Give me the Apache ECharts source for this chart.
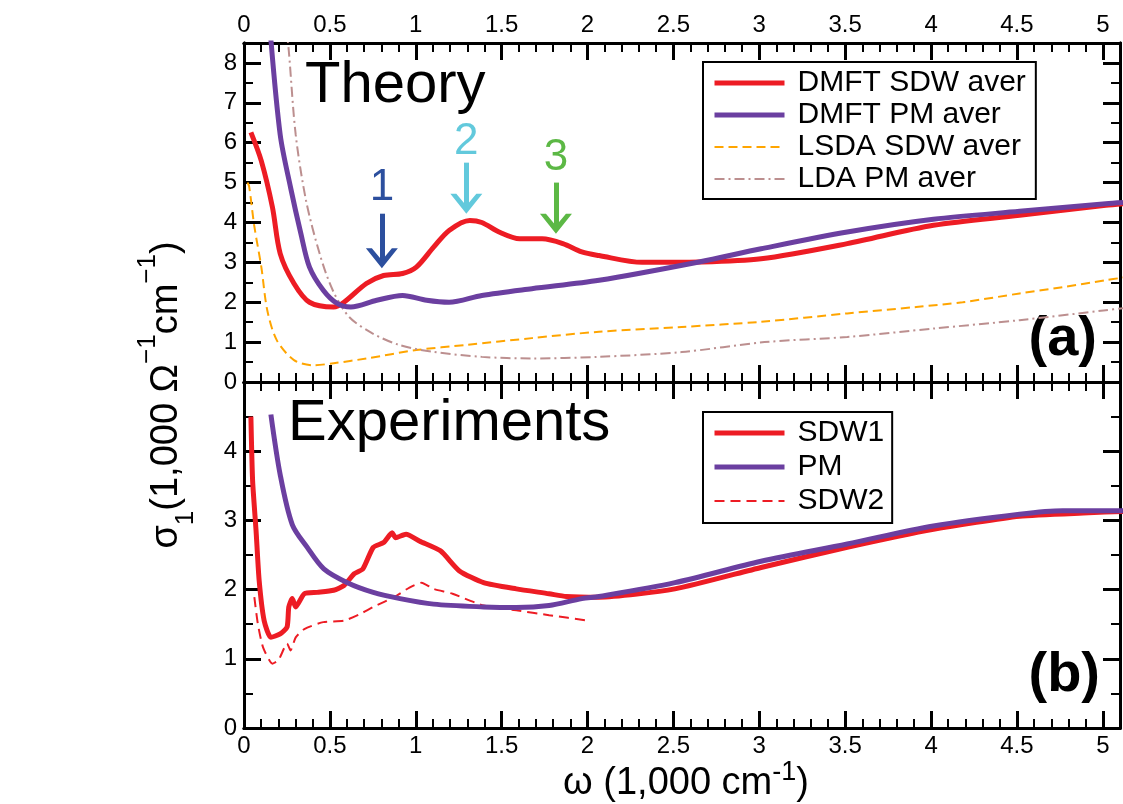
<!DOCTYPE html>
<html>
<head>
<meta charset="utf-8">
<title>Optical conductivity</title>
<script src="https://cdn.jsdelivr.net/npm/echarts@6/dist/echarts.min.js"></script>
<style>
	html, body { margin: 0; padding: 0; background: #fff; }
	.layer { position: absolute; left: 0; top: 0; width: 1123px; height: 804px; }
</style>
</head>
<body>
<div id="frame" class="layer"></div>
<div id="chart" class="layer"></div>
<script>
// tick labels
var xTicks = [0, 0.5, 1, 1.5, 2, 2.5, 3, 3.5, 4, 4.5, 5];
var xTickText = ['0', '0.5', '1', '1.5', '2', '2.5', '3', '3.5', '4', '4.5', '5'];
var yTicksTheory = [0, 1, 2, 3, 4, 5, 6, 7, 8];
var yTicksExp = [0, 1, 2, 3, 4];

// (a) theory, omega in 1,000 cm^-1, sigma in 1,000 Ohm^-1 cm^-1
var dmftSdwW = [0.04, 0.1, 0.165, 0.21, 0.29, 0.38, 0.52, 0.58, 0.71, 0.81, 0.92, 1.0, 1.1, 1.19, 1.31, 1.38, 1.48, 1.6, 1.73, 1.85, 1.96, 2.06, 2.31, 2.64, 3.0, 3.5, 4.0, 4.5, 5.0, 5.1];
var dmftSdwS = [6.26, 5.55, 4.38, 3.22, 2.47, 2.0, 1.88, 2.0, 2.47, 2.67, 2.72, 2.88, 3.38, 3.8, 4.05, 4.0, 3.76, 3.59, 3.59, 3.47, 3.26, 3.17, 3.0, 3.01, 3.09, 3.47, 3.93, 4.18, 4.43, 4.47];

var dmftPmW = [0.15, 0.21, 0.27, 0.33, 0.38, 0.46, 0.54, 0.62, 0.77, 0.92, 1.06, 1.19, 1.38, 1.67, 2.06, 2.64, 3.0, 3.5, 4.0, 4.5, 5.0, 5.1];
var dmftPmS = [8.9, 6.2, 4.88, 3.72, 2.88, 2.3, 1.97, 1.88, 2.05, 2.17, 2.05, 2.0, 2.17, 2.34, 2.55, 3.01, 3.34, 3.76, 4.08, 4.28, 4.47, 4.5];

var lsdaSdwW = [0.02, 0.03, 0.06, 0.1, 0.135, 0.19, 0.29, 0.4, 0.52, 0.71, 1.0, 1.29, 1.67, 2.06, 2.54, 3.0, 3.5, 3.9, 4.17, 4.5, 4.75, 5.0, 5.1];
var lsdaSdwS = [5.0, 4.9, 3.9, 2.9, 1.8, 1.05, 0.55, 0.42, 0.47, 0.59, 0.8, 0.93, 1.1, 1.26, 1.38, 1.51, 1.72, 1.88, 2.0, 2.22, 2.38, 2.55, 2.62];

var ldaPmW = [0.245, 0.26, 0.3, 0.36, 0.44, 0.515, 0.61, 0.745, 0.9, 1.09, 1.38, 1.67, 2.05, 2.54, 3.02, 3.5, 4.0, 4.5, 5.0, 5.1];
var ldaPmS = [8.9, 8.3, 6.2, 4.55, 3.2, 2.3, 1.63, 1.22, 0.93, 0.76, 0.63, 0.59, 0.63, 0.75, 1.0, 1.13, 1.34, 1.55, 1.8, 1.85];

// (b) experiments
var sdw1W = [0.04, 0.05, 0.07, 0.088, 0.117, 0.156, 0.21, 0.25, 0.26, 0.28, 0.3, 0.35, 0.425, 0.52, 0.58, 0.64, 0.69, 0.75, 0.81, 0.86, 0.88, 0.94, 1.02, 1.14, 1.25, 1.39, 1.58, 1.77, 1.87, 2.06, 2.5, 3.0, 3.5, 4.0, 4.5, 4.9, 5.1];
var sdw1S = [4.5, 3.57, 2.85, 2.13, 1.55, 1.31, 1.36, 1.46, 1.75, 1.87, 1.75, 1.94, 1.96, 1.99, 2.06, 2.23, 2.3, 2.61, 2.68, 2.82, 2.75, 2.8, 2.7, 2.56, 2.27, 2.1, 2.01, 1.94, 1.9, 1.89, 2.01, 2.32, 2.61, 2.87, 3.06, 3.11, 3.13];

var pmW = [0.156, 0.21, 0.28, 0.367, 0.463, 0.6, 0.75, 0.905, 1.1, 1.39, 1.58, 1.77, 1.96, 2.06, 2.5, 3.0, 3.5, 4.0, 4.5, 4.75, 5.1];
var pmS = [4.53, 3.66, 2.94, 2.61, 2.3, 2.1, 1.96, 1.87, 1.79, 1.75, 1.74, 1.77, 1.87, 1.9, 2.1, 2.41, 2.66, 2.92, 3.09, 3.14, 3.14];

var sdw2W = [0.06, 0.08, 0.11, 0.165, 0.2, 0.25, 0.27, 0.3, 0.35, 0.46, 0.58, 0.675, 0.75, 0.87, 0.96, 1.03, 1.1, 1.21, 1.39, 1.58, 1.77, 2.0];
var sdw2S = [1.89, 1.51, 1.17, 0.93, 0.98, 1.22, 1.12, 1.31, 1.43, 1.53, 1.55, 1.65, 1.75, 1.89, 2.03, 2.1, 2.01, 1.94, 1.77, 1.7, 1.63, 1.55];

var FONT = '"Liberation Sans", Arial, Helvetica, sans-serif';
var RED = '#ed1c24', PURPLE = '#6b3fa0', ORANGE = '#ffa500', ROSY = '#bc8f8f';
var C1 = '#2c4f9e', C2 = '#62c9dc', C3 = '#5cb845';

var grids = [
	{left: 244, top: 43, width: 884, height: 339},
	{left: 244, top: 382, width: 884, height: 346}
];

function zip(xs, ys) {
	var out = [];
	for (var i = 0; i < xs.length; i++) {
		out.push([xs[i], ys[i]]);
	}
	return out;
}

function tickText(ticks, texts) {
	return function(v) {
		for (var i = 0; i < ticks.length; i++) {
			if (Math.abs(ticks[i] - v) < 1e-6) return texts ? texts[i] : String(ticks[i]);
		}
		return '';
	};
}

// drawn: false gives the same scale with nothing visible (the data layer)
function xAxisOf(grid, pos, major, labels, drawn) {
	var label = {show: drawn && labels, margin: 6, color: '#000', fontSize: 24, fontFamily: FONT};
	if (labels) label.formatter = tickText(xTicks, xTickText);
	return {
		type: 'value', gridIndex: grid, position: pos,
		min: 0, max: 5.1, interval: major ? 0.5 : 0.1,
		axisLine: {show: drawn, onZero: false, lineStyle: {color: '#000', width: 3}},
		axisTick: {show: drawn, inside: true, length: major ? 17 : 9,
			lineStyle: {color: '#000', width: major ? 3 : 2}},
		axisLabel: label,
		splitLine: {show: false}
	};
}

function yAxisOf(grid, pos, max, major, ticks, drawn) {
	var label = {show: drawn && !!ticks, margin: 7, color: '#000', fontSize: 24, fontFamily: FONT};
	if (ticks) label.formatter = tickText(ticks);
	return {
		type: 'value', gridIndex: grid, position: pos,
		min: 0, max: max, interval: major ? 1 : 0.5,
		axisLine: {show: drawn, onZero: false, lineStyle: {color: '#000', width: 3}},
		axisTick: {show: drawn, inside: true, length: major ? 17 : 9,
			lineStyle: {color: '#000', width: major ? 3 : 2}},
		axisLabel: label,
		splitLine: {show: false}
	};
}

function xAxes(drawn) {
	return [
		xAxisOf(0, 'bottom', true, false, drawn),
		xAxisOf(0, 'bottom', false, false, drawn),
		xAxisOf(0, 'top', true, true, drawn),
		xAxisOf(0, 'top', false, false, drawn),
		xAxisOf(1, 'bottom', true, true, drawn),
		xAxisOf(1, 'bottom', false, false, drawn),
		xAxisOf(1, 'top', true, false, drawn),
		xAxisOf(1, 'top', false, false, drawn)
	];
}

function yAxes(drawn) {
	return [
		yAxisOf(0, 'left', 8.5, true, yTicksTheory, drawn),
		yAxisOf(0, 'left', 8.5, false, null, drawn),
		yAxisOf(0, 'right', 8.5, true, null, drawn),
		yAxisOf(0, 'right', 8.5, false, null, drawn),
		yAxisOf(1, 'left', 5, true, yTicksExp, drawn),
		yAxisOf(1, 'left', 5, false, null, drawn),
		yAxisOf(1, 'right', 5, true, null, drawn),
		yAxisOf(1, 'right', 5, false, null, drawn)
	];
}

function legendItem(name, width) {
	return {name: name, lineStyle: {width: width}};
}

var chevron = 'path://M0,0 L6,0 L16,12 L26,0 L32,0 L16,20 Z';

function numberMark(x, y, txt, color) {
	return {
		coord: [x, y], symbol: 'circle', symbolSize: 1,
		itemStyle: {color: 'rgba(0,0,0,0)'},
		label: {show: true, position: 'inside', formatter: txt, color: color,
			fontSize: 44, fontFamily: FONT}
	};
}

function headMark(x, y, color) {
	return {
		coord: [x, y], symbol: chevron, symbolSize: [32, 20], symbolOffset: [0, -10],
		itemStyle: {color: color}, label: {show: false}
	};
}

// frame layer: axes, ticks and tick labels
var frame = echarts.init(document.getElementById('frame'));
frame.setOption({
	animation: false,
	backgroundColor: '#fff',
	grid: grids,
	xAxis: xAxes(true),
	yAxis: yAxes(true),
	series: [
		{type: 'line', xAxisIndex: 0, yAxisIndex: 0, data: [], symbol: 'none'},
		{type: 'line', xAxisIndex: 4, yAxisIndex: 4, data: [], symbol: 'none'}
	]
});

// data layer on top, same grids and scales
var chart = echarts.init(document.getElementById('chart'));
chart.setOption({
	animation: false,
	backgroundColor: 'transparent',
	grid: grids,
	xAxis: xAxes(false),
	yAxis: yAxes(false),
	legend: [
		{
			data: [legendItem('DMFT SDW aver', 5), legendItem('DMFT PM aver', 5),
				legendItem('LSDA SDW aver', 2), legendItem('LDA PM aver', 2)],
			orient: 'vertical', left: 703, top: 62,
			itemWidth: 70, itemHeight: 4, itemGap: 0,
			itemStyle: {opacity: 0},
			padding: [5, 10, 4, 9],
			borderColor: '#000', borderWidth: 2, backgroundColor: '#fff',
			selectedMode: false,
			textStyle: {fontSize: 30, fontFamily: FONT, color: '#000', lineHeight: 32, padding: [0, 0, 0, 8]}
		},
		{
			data: [legendItem('SDW1', 5), legendItem('PM', 5), legendItem('SDW2', 2)],
			orient: 'vertical', left: 703, top: 412,
			itemWidth: 70, itemHeight: 4, itemGap: 0,
			itemStyle: {opacity: 0},
			padding: [4, 8, 5, 9],
			borderColor: '#000', borderWidth: 2, backgroundColor: '#fff',
			selectedMode: false,
			textStyle: {fontSize: 30, fontFamily: FONT, color: '#000', lineHeight: 34, padding: [0, 0, 0, 8]}
		}
	],
	series: [
		{
			name: 'LSDA SDW aver', type: 'line', xAxisIndex: 0, yAxisIndex: 0,
			data: zip(lsdaSdwW, lsdaSdwS), symbol: 'none', smooth: 0.3,
			lineStyle: {color: ORANGE, width: 2, type: [9, 5]}, itemStyle: {color: ORANGE}
		},
		{
			name: 'LDA PM aver', type: 'line', xAxisIndex: 0, yAxisIndex: 0,
			data: zip(ldaPmW, ldaPmS), symbol: 'none', smooth: 0.3,
			lineStyle: {color: ROSY, width: 2, type: [10, 4, 2, 4]}, itemStyle: {color: ROSY}
		},
		{
			name: 'DMFT SDW aver', type: 'line', xAxisIndex: 0, yAxisIndex: 0,
			data: zip(dmftSdwW, dmftSdwS), symbol: 'none', smooth: 0.3,
			lineStyle: {color: RED, width: 5}, itemStyle: {color: RED},
			markLine: {
				silent: true, symbol: ['none', 'none'], label: {show: false},
				lineStyle: {width: 5, type: 'solid'},
				data: [
					[{coord: [0.80, 4.22], lineStyle: {color: C1, width: 5, type: 'solid'}}, {coord: [0.80, 3.0]}],
					[{coord: [1.29, 5.5], lineStyle: {color: C2, width: 5, type: 'solid'}}, {coord: [1.29, 4.37]}],
					[{coord: [1.81, 5.0], lineStyle: {color: C3, width: 5, type: 'solid'}}, {coord: [1.81, 3.87]}]
				]
			},
			markPoint: {
				silent: true,
				data: [
					headMark(0.80, 2.85, C1), headMark(1.29, 4.22, C2), headMark(1.81, 3.72, C3),
					numberMark(0.80, 4.88, '1', C1), numberMark(1.29, 6.03, '2', C2), numberMark(1.81, 5.63, '3', C3)
				]
			}
		},
		{
			name: 'DMFT PM aver', type: 'line', xAxisIndex: 0, yAxisIndex: 0,
			data: zip(dmftPmW, dmftPmS), symbol: 'none', smooth: 0.3,
			lineStyle: {color: PURPLE, width: 5}, itemStyle: {color: PURPLE}
		},
		{
			name: 'SDW2', type: 'line', xAxisIndex: 4, yAxisIndex: 4,
			data: zip(sdw2W, sdw2S), symbol: 'none', smooth: 0.2,
			lineStyle: {color: RED, width: 2, type: [10, 6]}, itemStyle: {color: RED}
		},
		{
			name: 'SDW1', type: 'line', xAxisIndex: 4, yAxisIndex: 4,
			data: zip(sdw1W, sdw1S), symbol: 'none', smooth: 0.2,
			lineStyle: {color: RED, width: 5}, itemStyle: {color: RED}
		},
		{
			name: 'PM', type: 'line', xAxisIndex: 4, yAxisIndex: 4,
			data: zip(pmW, pmS), symbol: 'none', smooth: 0.3,
			lineStyle: {color: PURPLE, width: 5}, itemStyle: {color: PURPLE}
		}
	],
	graphic: [
		{type: 'text', x: 305, y: 86, silent: true,
			style: {text: 'Theory', fill: '#000', font: '58px ' + FONT,
				align: 'left', verticalAlign: 'middle', textAlign: 'left', textVerticalAlign: 'middle'}},
		{type: 'text', x: 288, y: 424, silent: true,
			style: {text: 'Experiments', fill: '#000', font: '58px ' + FONT,
				align: 'left', verticalAlign: 'middle', textAlign: 'left', textVerticalAlign: 'middle'}},
		{type: 'text', x: 1097, y: 340, silent: true,
			style: {text: '(a)', fill: '#000', font: 'bold 56px ' + FONT,
				align: 'right', verticalAlign: 'middle', textAlign: 'right', textVerticalAlign: 'middle'}},
		{type: 'text', x: 1100, y: 676, silent: true,
			style: {text: '(b)', fill: '#000', font: 'bold 56px ' + FONT,
				align: 'right', verticalAlign: 'middle', textAlign: 'right', textVerticalAlign: 'middle'}},
		{type: 'text', x: 167, y: 395, rotation: Math.PI / 2, silent: true,
			style: {
				text: '{m|σ}{sub|1}{m|(1,000 Ω}{sup|−1}{m|cm}{sup|−1}{m|)}',
				align: 'center', verticalAlign: 'middle', textAlign: 'center', textVerticalAlign: 'middle',
				rich: {
					m: {fontSize: 38, fontFamily: FONT, color: '#000', lineHeight: 64, verticalAlign: 'middle'},
					sup: {fontSize: 26, fontFamily: FONT, color: '#000', lineHeight: 22, verticalAlign: 'top'},
					sub: {fontSize: 26, fontFamily: FONT, color: '#000', lineHeight: 26, verticalAlign: 'bottom'}
				}
			}},
		{type: 'text', x: 686, y: 784, silent: true,
			style: {
				text: '{m|ω (1,000 cm}{sup|-1}{m|)}',
				align: 'center', verticalAlign: 'middle', textAlign: 'center', textVerticalAlign: 'middle',
				rich: {
					m: {fontSize: 38, fontFamily: FONT, color: '#000', lineHeight: 50, verticalAlign: 'middle'},
					sup: {fontSize: 27, fontFamily: FONT, color: '#000', lineHeight: 26, verticalAlign: 'top'}
				}
			}}
	]
});
</script>
</body>
</html>
